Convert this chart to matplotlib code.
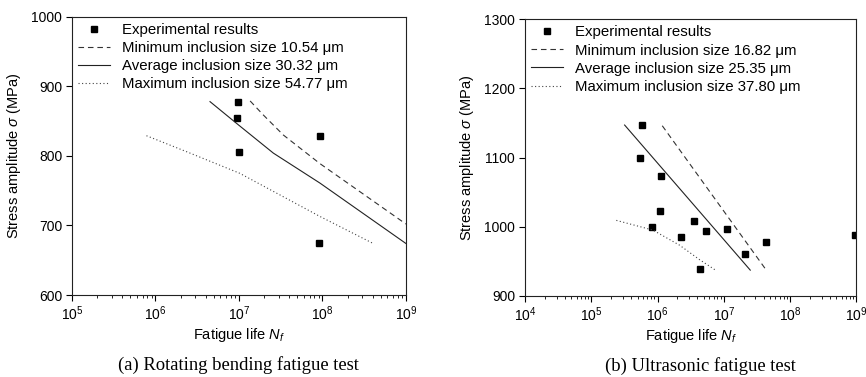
import numpy as np
import matplotlib
matplotlib.use("Agg")
import matplotlib.pyplot as plt
from matplotlib.ticker import LogLocator, NullFormatter, MultipleLocator

plt.rcParams['font.family'] = ['Liberation Sans', 'DejaVu Sans']
plt.rcParams['mathtext.fontset'] = 'custom'
plt.rcParams['mathtext.rm'] = 'Liberation Sans'
plt.rcParams['mathtext.it'] = 'Liberation Sans:italic'
plt.rcParams['mathtext.cal'] = 'Liberation Sans'

# (a) rotating bending fatigue test
a_exp_N = [9.8e6, 9.5e6, 1.0e7, 9.4e7, 9.1e7]
a_exp_S = [878, 854, 805, 828, 675]
a_min_N = [1.36e7, 1.95e7, 3.4e7, 9.3e7, 1.0e9]
a_min_S = [879, 859, 830, 789, 702]
a_avg_N = [4.5e6, 9.3e6, 2.58e7, 9.3e7, 1.0e9]
a_avg_S = [878, 847, 804, 761, 674]
a_max_N = [7.8e5, 2.36e6, 1.02e7, 9.3e7, 4.06e8]
a_max_S = [829, 806, 775, 713, 674]
a_labels = ["Experimental results",
            "Minimum inclusion size 10.54 μm",
            "Average inclusion size 30.32 μm",
            "Maximum inclusion size 54.77 μm"]

# (b) ultrasonic fatigue test
b_exp_N = [5.9e5, 5.37e5, 1.11e6, 1.08e6, 8.36e5, 2.23e6, 3.55e6,
           5.45e6, 4.33e6, 1.1e7, 2.07e7, 4.29e7, 9.4e8]
b_exp_S = [1147, 1099, 1073, 1023, 999, 985, 1008,
           994, 938, 997, 960, 978, 988]
b_min_N = [1.18e6, 4.38e7]
b_min_S = [1146, 937]
b_avg_N = [3.19e5, 2.51e7]
b_avg_S = [1147, 937]
b_max_N = [2.39e5, 8.5e5, 2.16e6, 4.33e6, 7.5e6]
b_max_S = [1009, 995, 973, 952, 937]
b_labels = ["Experimental results",
            "Minimum inclusion size 16.82 μm",
            "Average inclusion size 25.35 μm",
            "Maximum inclusion size 37.80 μm"]

fig = plt.figure(figsize=(8.66, 3.77), dpi=100)
ax1 = fig.add_axes([0.0831, 0.2175, 0.3857, 0.738])
ax2 = fig.add_axes([0.6062, 0.2157, 0.3826, 0.733])


def panel(ax, eN, eS, mnN, mnS, avN, avS, mxN, mxS, labels, xlim, ylim, ystep):
    ax.plot(eN, eS, 's', color='black', ms=4.5, label=labels[0])
    ax.plot(mnN, mnS, color='#333333', lw=0.8, ls=(0, (5, 3.5)), label=labels[1])
    ax.plot(avN, avS, color='#222222', lw=0.8, ls='-', label=labels[2])
    ax.plot(mxN, mxS, color='#444444', lw=0.8, ls=(0, (1, 2.2)), label=labels[3])
    ax.set_xscale('log')
    ax.set_xlim(*xlim)
    ax.set_ylim(*ylim)
    ax.yaxis.set_major_locator(MultipleLocator(ystep))
    ax.xaxis.set_major_locator(LogLocator(base=10, numticks=12))
    ax.xaxis.set_minor_locator(LogLocator(base=10, subs=np.arange(2, 10), numticks=12))
    ax.xaxis.set_minor_formatter(NullFormatter())
    ax.tick_params(which='major', direction='out', length=4, width=0.8,
                   labelsize=10, top=False, right=False, pad=3)
    ax.tick_params(which='minor', direction='out', length=2.2, width=0.6,
                   top=False, right=False)
    for s in ax.spines.values():
        s.set_linewidth(0.8)
        s.set_color('#222222')
    ax.set_xlabel('Fatigue life $N_f$', fontsize=10.5, labelpad=2)
    ax.set_ylabel('Stress amplitude $\\sigma$ (MPa)', fontsize=10.5, labelpad=6)
    ax.legend(loc='upper left', frameon=False, fontsize=10.8, handlelength=2.15,
              handletextpad=0.8, labelspacing=0.28, borderaxespad=0.1,
              borderpad=0.3, bbox_to_anchor=(0.0, 1.0))


panel(ax1, a_exp_N, a_exp_S, a_min_N, a_min_S, a_avg_N, a_avg_S, a_max_N, a_max_S,
      a_labels, (1e5, 1e9), (600, 1000), 100)
panel(ax2, b_exp_N, b_exp_S, b_min_N, b_min_S, b_avg_N, b_avg_S, b_max_N, b_max_S,
      b_labels, (1e4, 1e9), (900, 1300), 100)

fig.text(238 / 866, 1 - 365 / 377, '(a) Rotating bending fatigue test',
         family='Liberation Serif', fontsize=13.4, ha='center', va='center')
fig.text(700 / 866, 1 - 366 / 377, '(b) Ultrasonic fatigue test',
         family='Liberation Serif', fontsize=13.4, ha='center', va='center')

fig.savefig('out.png', dpi=100)
